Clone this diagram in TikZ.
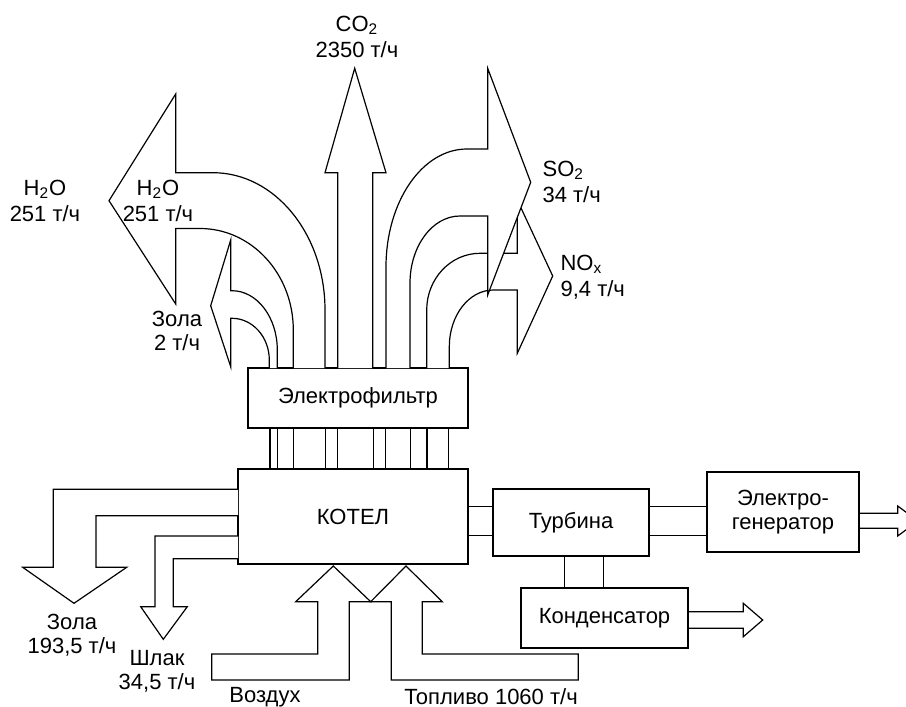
\documentclass[tikz,border=0pt]{standalone}
\usepackage{fontspec}
\setmainfont{Liberation Sans}

\begin{document}
\begin{tikzpicture}[x=0.5pt,y=-0.5pt,line width=0.6pt]
    \tikzset{
        blok/.style={draw,inner sep=0pt,outer sep=0pt,align=center,
            font=\fontsize{11}{12}\selectfont},
        lbl/.style={inner sep=0pt,align=center,
            font=\fontsize{11}{12}\selectfont},
        lblw/.style={lbl,font=\fontsize{11}{13}\selectfont},
        potok/.style={draw,fill=white,line join=miter}
    }
    \useasboundingbox (0,0) rectangle (906,707);
    % blocks
    \node[blok,minimum width=110pt,minimum height=30pt] (filter) at (358,398) {Электрофильтр};
    \node[blok,minimum width=115pt,minimum height=47.5pt] (kotel) at (353,516.5) {КОТЕЛ};
    \node[blok,minimum width=78pt,minimum height=33.5pt] (turbina) at (571,522.5) {Турбина};
    \node[blok,minimum width=76pt,minimum height=40pt] (gen) at (783,512) {Электро-\\генератор};
    \node[blok,minimum width=83.5pt,minimum height=30pt] (kond) at (604.5,618) {Конденсатор};

    % gases between filter and boiler
    \foreach \x in {270,277.7,293.3,325.3,337.3,373.3,385.3,410.7,427,448.7}
        \draw (\x,0 |- filter.south) -- (\x,0 |- kotel.north);
    \foreach \y in {506.3,535.3} {
        \draw (kotel.east |- 0,\y) -- (turbina.west |- 0,\y);
        \draw (turbina.east |- 0,\y) -- (gen.west |- 0,\y);
    }
    \foreach \x in {564.3,603.7}
        \draw (\x,0 |- turbina.south) -- (\x,0 |- kond.north);
    \draw (gen.east |- 0,513.3) -- (897.7,513.3) -- (897.7,506) -- (918,521)
        -- (897.7,536) -- (897.7,528.3) -- (gen.east |- 0,528.3);
    \draw (kond.east |- 0,611.7) -- (743.3,611.7) -- (743.3,603.3) -- (762.7,620)
        -- (743.3,636.7) -- (743.3,628.3) -- (kond.east |- 0,628.3);

    % outputs over the filter
    \draw[potok] (426.7,368) -- (426.7,310) .. controls (426.7,278.7) and (450.6,253.3) .. (480,253.3)
        -- (517.3,253.3) -- (517.3,200) -- (552.7,276) -- (517.3,353.3) -- (517.3,290)
        -- (493.3,290) .. controls (469,290) and (449.3,315.4) .. (449.3,346.7) -- (449.3,368);
    \draw[potok] (386,368) -- (386,267) .. controls (386,202) and (422,149) .. (467,149)
        -- (487.7,149) -- (487.7,68.3) -- (530.7,182.3) -- (487.7,295) -- (487.7,216)
        -- (460,216) .. controls (432.4,216) and (410,246) .. (410,283.3) -- (410,368);
    \draw[potok] (337.7,368) -- (337.7,172.7) -- (325,172.7) -- (354.7,68.3)
        -- (386,172.7) -- (372.7,172.7) -- (372.7,368);
    \draw[potok] (325,368) -- (325,310) .. controls (325,234.2) and (274.9,172.7) .. (213,172.7)
        -- (175.7,172.7) -- (175.7,94) -- (109,200.7) -- (175.7,304) -- (175.7,228.5)
        -- (200,228.5) .. controls (251.5,228.5) and (293.3,273.8) .. (293.3,330) -- (293.3,368);
    \draw[potok] (277.3,368) -- (277.3,350) .. controls (277.3,317.2) and (257,290.7) .. (232,290.7)
        -- (230.7,290.7) -- (230.7,240) -- (210.7,305.7) -- (230.7,366.7) -- (230.7,318.3)
        -- (232,318.3) .. controls (252.6,318.3) and (269.3,337) .. (269.3,360) -- (269.3,368);

    % outputs to the left
    \draw[potok] (kotel.west |- 0,489.3) -- (53.3,489.3) -- (53.3,567.3) -- (22.7,567.3)
        -- (74,603.3) -- (126.7,567.3) -- (96,567.3) -- (96,515.7) -- (kotel.west |- 0,515.7);
    \draw[potok] (kotel.west |- 0,536) -- (155,536) -- (155,606.7) -- (140.7,606.7)
        -- (163.3,639.3) -- (187.3,606.7) -- (173.3,606.7) -- (173.3,558.7) -- (kotel.west |- 0,558.7);

    % inputs
    \draw[potok] (349.3,680) -- (211.7,680) -- (211.7,654) -- (317.7,654) -- (317.7,601.7)
        -- (295.7,601.7) -- (333.3,566) -- (370.7,601.7) -- (349.3,601.7) -- cycle;
    \draw[potok] (391.3,680) -- (578.3,680) -- (578.3,654) -- (422.3,654) -- (422.3,601.7)
        -- (442.3,601.7) -- (406,566) -- (370.7,601.7) -- (391.3,601.7) -- cycle;

    % labels
    \node[lblw] (co2) at (357,37) {CO\textsubscript{2}\\2350 т/ч};
    \node[lblw,anchor=west,align=left] (so2) at (542,182) {SO\textsubscript{2}\\34 т/ч};
    \node[lblw,anchor=west,align=left] (nox) at (560,277) {NO\textsubscript{x}\\9,4 т/ч};
    \node[lblw] (h2oa) at (45,201) {H\textsubscript{2}O\\251 т/ч};
    \node[lblw] (h2ob) at (158,201) {H\textsubscript{2}O\\251 т/ч};
    \node[lbl] (zola2) at (177,331) {Зола\\2 т/ч};
    \node[lbl] (zola1) at (72,635) {Зола\\193,5 т/ч};
    \node[lbl] (shlak) at (157,671) {Шлак\\34,5 т/ч};
    \node[lbl] (vozduh) at (265,697) {Воздух};
    \node[lbl] (toplivo) at (491,697) {Топливо 1060 т/ч};
\end{tikzpicture}
\end{document}
